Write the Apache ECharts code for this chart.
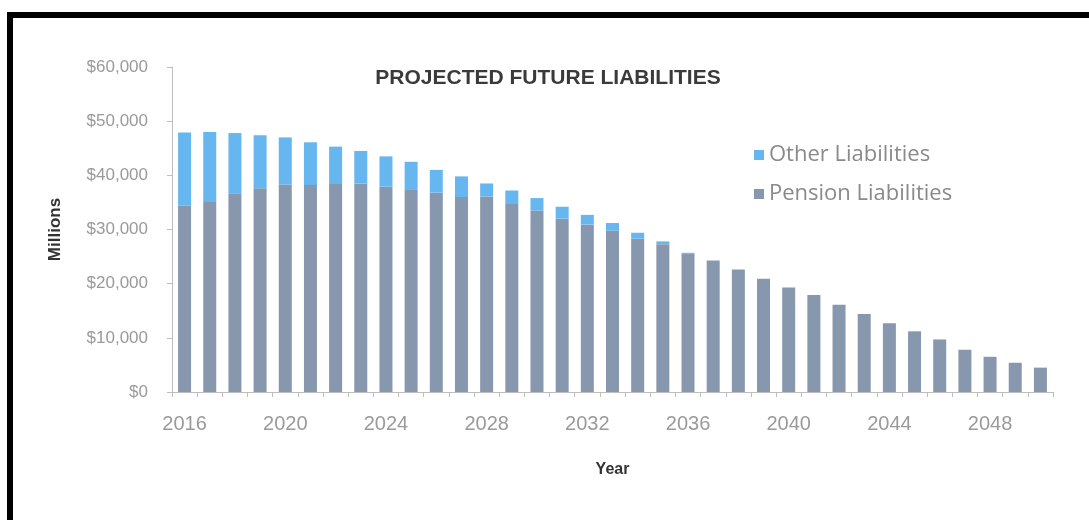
<!DOCTYPE html>
<html>
<head>
<meta charset="utf-8">
<script src="https://cdn.jsdelivr.net/npm/echarts@6/dist/echarts.min.js"></script>
<style>
  html, body { margin: 0; padding: 0; background: #fff; }
  #chart { width: 1089px; height: 520px; }
</style>
</head>
<body>
<div id="chart"></div>
<script>
// years 2016..2050
var years = ['2016','2017','2018','2019','2020','2021','2022','2023','2024','2025',
             '2026','2027','2028','2029','2030','2031','2032','2033','2034','2035',
             '2036','2037','2038','2039','2040','2041','2042','2043','2044','2045',
             '2046','2047','2048','2049','2050'];

// $ millions
var pension = [34400, 35100, 36700, 37600, 38300, 38200, 38400, 38500, 37900, 37300,
               36800, 36000, 36100, 34700, 33500, 32000, 30900, 29800, 28300, 27300,
               25500, 24300, 22600, 20900, 19300, 17900, 16100, 14400, 12700, 11200,
               9700, 7800, 6500, 5400, 4500];
var other = [13500, 12900, 11100, 9800, 8700, 7900, 6900, 6000, 5600, 5200,
             4200, 3800, 2400, 2500, 2300, 2200, 1800, 1400, 1100, 500,
             200, 0, 0, 0, 0, 0, 0, 0, 0, 0,
             0, 0, 0, 0, 0];

var yTicks = [0, 10000, 20000, 30000, 40000, 50000, 60000];

var chart = echarts.init(document.getElementById('chart'));

var option = {
    backgroundColor: '#fff',
    animation: false,
    title: {
        text: 'PROJECTED FUTURE LIABILITIES',
        left: 543,
        top: 63,
        textAlign: 'center',
        textStyle: {
            fontFamily: 'Liberation Sans',
            fontWeight: 'bold',
            fontSize: 21,
            color: '#3a3a3a'
        }
    },
    legend: {
        orient: 'vertical',
        left: 749,
        top: 139,
        itemWidth: 10,
        itemHeight: 10,
        itemGap: 17,
        icon: 'rect',
        data: ['Other Liabilities', 'Pension Liabilities'],
        textStyle: {
            fontFamily: 'Open Sans',
            fontSize: 22,
            color: '#8a8a8a',
            padding: [0, 0, 0, 0]
        }
    },
    graphic: [
        { type: 'rect', shape: { x: 7, y: 12, width: 1082, height: 6 }, style: { fill: '#000' } },
        { type: 'rect', shape: { x: 7, y: 12, width: 6, height: 508 }, style: { fill: '#000' } }
    ],
    grid: {
        left: 172,
        right: 36,
        top: 67,
        bottom: 128
    },
    xAxis: {
        type: 'category',
        data: years,
        name: 'Year',
        nameLocation: 'middle',
        nameGap: 70,
        nameTextStyle: {
            fontFamily: 'Liberation Sans',
            fontWeight: 'bold',
            fontSize: 16,
            color: '#333'
        },
        axisLine: { lineStyle: { color: '#bdbdbd' } },
        axisTick: { show: true, interval: 0, length: 5, lineStyle: { color: '#bdbdbd' } },
        axisLabel: {
            interval: 3,
            margin: 22,
            fontFamily: 'Liberation Sans',
            fontSize: 20,
            color: '#9a9a9a'
        }
    },
    yAxis: {
        type: 'value',
        min: yTicks[0],
        max: yTicks[yTicks.length - 1],
        interval: 10000,
        name: 'Millions',
        nameLocation: 'middle',
        nameRotate: 90,
        nameGap: 108,
        nameTextStyle: {
            fontFamily: 'Liberation Sans',
            fontWeight: 'bold',
            fontSize: 17,
            color: '#333'
        },
        axisLine: { show: true, lineStyle: { color: '#bdbdbd' } },
        axisTick: { show: true, length: 5, lineStyle: { color: '#bdbdbd' } },
        splitLine: { show: false },
        axisLabel: {
            margin: 24,
            fontFamily: 'Liberation Sans',
            fontSize: 17,
            color: '#9a9a9a',
            formatter: function (v) {
                return '$' + v.toLocaleString('en-US');
            }
        }
    },
    series: [
        {
            name: 'Pension Liabilities',
            type: 'bar',
            stack: 'total',
            barWidth: 13,
            data: pension,
            itemStyle: { color: '#8797ae' }
        },
        {
            name: 'Other Liabilities',
            type: 'bar',
            stack: 'total',
            barWidth: 13,
            data: other,
            itemStyle: { color: '#66b6f0' }
        }
    ]
};

chart.setOption(option);
</script>
</body>
</html>
